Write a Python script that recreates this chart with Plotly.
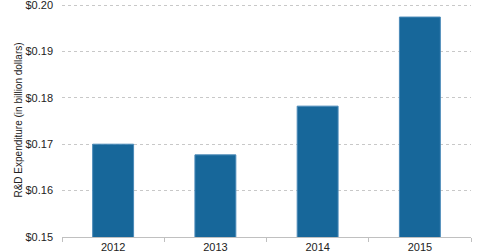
import plotly.graph_objects as go

years = ["2012", "2013", "2014", "2015"]
rd_expenditure = [0.1700, 0.1677, 0.1782, 0.1974]
y_ticks = [0.15, 0.16, 0.17, 0.18, 0.19, 0.20]
y_tick_labels = ["$0.15", "$0.16", "$0.17", "$0.18", "$0.19", "$0.20"]

fig = go.Figure(
    go.Bar(
        x=years,
        y=rd_expenditure,
        marker=dict(color="#17679a", line=dict(color="#4a8ab8", width=1)),
        width=0.4,
    )
)

fig.update_layout(
    width=480,
    height=251,
    margin=dict(l=62, r=9, t=3, b=14, autoexpand=False),
    plot_bgcolor="white",
    paper_bgcolor="white",
    font=dict(family="Liberation Sans, Arial, sans-serif", size=11, color="#222222"),
    showlegend=False,
    bargap=0.6,
)

fig.update_xaxes(
    type="category",
    automargin=False,
    showline=True,
    linecolor="#c0c0c0",
    linewidth=1,
    ticks="outside",
    tickson="boundaries",
    ticklen=4,
    tickcolor="#c0c0c0",
    showgrid=False,
    tickfont=dict(size=11, color="#222222"),
)

fig.update_yaxes(
    automargin=False,
    range=[0.15, 0.20043],
    tickvals=y_ticks,
    ticktext=y_tick_labels,
    ticklabeloverflow="allow",
    showgrid=True,
    gridcolor="#c8c8c8",
    griddash="dot",
    gridwidth=1,
    zeroline=False,
    showline=False,
    ticks="",
    ticklabelstandoff=8,
    tickfont=dict(size=11, color="#222222"),
    title=dict(
        text="R&D Expenditure (in billion dollars)",
        font=dict(size=10, color="#222222"),
        standoff=0,
    ),
)

fig.write_html("out.html")
